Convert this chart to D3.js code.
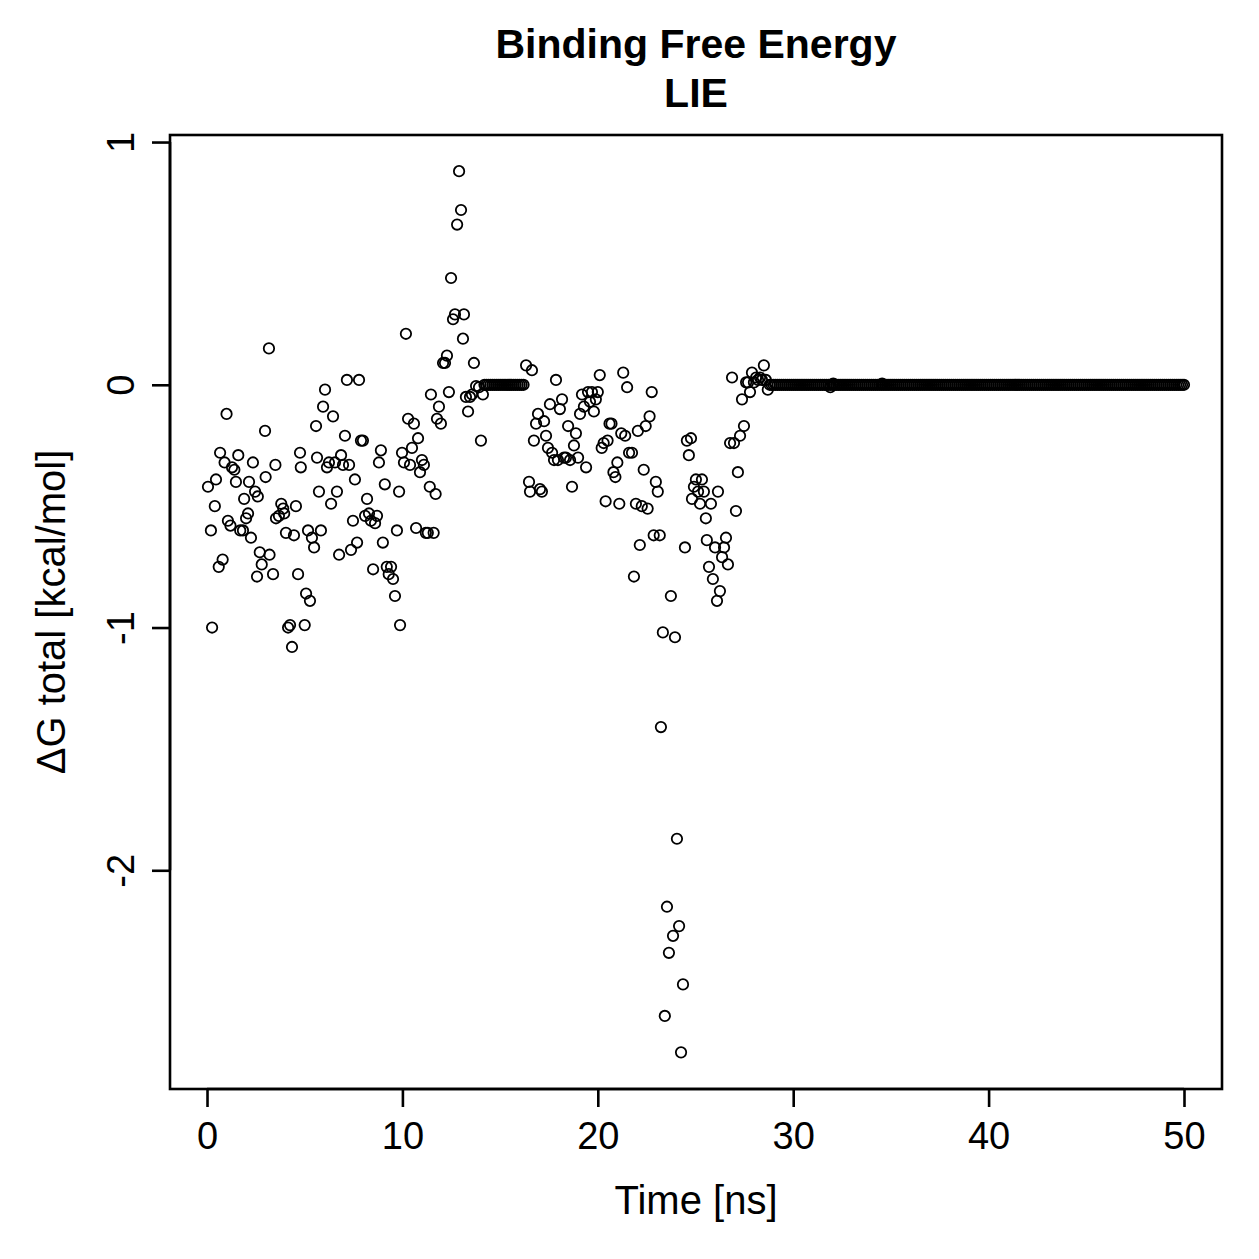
<html>
<head>
<style>
  body { margin: 0; background: white; }
  text { font-family: "Liberation Sans", Arial, Helvetica, sans-serif; fill: black; }
</style>
</head>
<body>
<svg id="chart" width="1259" height="1259"></svg>
<script src="https://d3js.org/d3.v7.min.js"></script>
<script>
// scattered samples, time in ns
const time = [
  0.05,0.2,0.26,0.4,0.46,0.6,0.67,0.8,0.9,1.0,1.07,1.2,1.28,1.4,1.48,1.6,1.7,1.84,1.9,2.0,
  2.1,2.15,2.25,2.35,2.46,2.56,2.6,2.7,2.8,2.97,3.0,3.17,3.2,3.38,3.5,3.53,3.68,3.8,3.9,3.95,
  4.04,4.15,4.25,4.35,4.45,4.55,4.66,4.76,4.8,5.0,5.07,5.17,5.27,5.37,5.48,5.58,5.63,5.73,5.83,5.94,
  6.04,6.14,6.24,6.35,6.45,6.55,6.65,6.76,6.86,6.96,7.06,7.16,7.27,7.37,7.47,7.57,7.68,7.78,7.88,7.98,
  8.09,8.19,8.29,8.39,8.5,8.6,8.7,8.8,8.9,9.0,9.1,9.2,9.3,9.42,9.52,9.62,9.72,9.83,9.88,9.98,
  10.08,10.18,10.29,10.39,10.49,10.59,10.7,10.8,10.9,11.0,11.1,11.2,11.3,11.4,11.46,11.6,11.7,11.77,11.87,11.97,
  12.08,12.18,12.28,12.38,12.49,12.59,12.69,12.8,12.9,13.0,13.1,13.15,13.25,13.36,13.46,13.56,13.66,13.77,13.92,14.02,
  14.12,
  16.33,16.48,16.53,16.63,16.73,16.84,16.94,17.04,17.14,17.25,17.35,17.45,17.55,17.66,17.76,17.86,17.96,18.06,18.17,18.27,
  18.37,18.48,18.58,18.68,18.78,18.88,18.99,19.09,19.19,19.29,19.4,19.5,19.6,19.7,19.8,19.9,20.0,20.1,20.2,20.3,
  20.4,20.5,20.6,20.7,20.8,20.9,21.0,21.1,21.2,21.3,21.4,21.5,21.6,21.75,21.85,21.95,22.05,22.15,22.25,22.35,
  22.45,22.55,22.65,22.76,22.86,22.97,23.07,23.17,23.23,23.33,23.43,23.54,23.64,23.74,23.85,23.95,24.05,24.16,24.26,24.36,
  24.46,24.56,24.66,24.77,24.82,24.92,25.02,25.13,25.23,25.33,25.43,25.53,25.58,25.69,25.79,25.89,26.0,26.1,26.15,26.25,
  26.36,26.46,26.56,26.66,26.77,26.87,26.97,27.07,27.17,27.28,27.38,27.48,27.59,27.69,27.79,27.89,27.99,28.1,28.2,28.3,
  28.4,28.5,28.6,28.7,31.9,32.05,34.55
];
// ΔG total, kcal/mol
const dG = [
  -0.42,-0.60,-1.00,-0.50,-0.39,-0.75,-0.28,-0.72,-0.32,-0.12,-0.56,-0.58,-0.34,-0.35,-0.40,-0.29,-0.60,-0.60,-0.47,-0.55,
  -0.53,-0.40,-0.63,-0.32,-0.44,-0.79,-0.46,-0.69,-0.74,-0.19,-0.38,0.15,-0.70,-0.78,-0.33,-0.55,-0.54,-0.49,-0.51,-0.53,
  -0.61,-1.00,-0.99,-1.08,-0.62,-0.50,-0.78,-0.28,-0.34,-0.99,-0.86,-0.60,-0.89,-0.63,-0.67,-0.17,-0.30,-0.44,-0.60,-0.09,
  -0.02,-0.34,-0.32,-0.49,-0.13,-0.32,-0.44,-0.70,-0.29,-0.33,-0.21,0.02,-0.33,-0.68,-0.56,-0.39,-0.65,0.02,-0.23,-0.23,
  -0.54,-0.47,-0.53,-0.56,-0.76,-0.57,-0.54,-0.32,-0.27,-0.65,-0.41,-0.75,-0.78,-0.75,-0.80,-0.87,-0.60,-0.44,-0.99,-0.28,
  -0.32,0.21,-0.14,-0.33,-0.26,-0.16,-0.59,-0.22,-0.36,-0.31,-0.33,-0.61,-0.61,-0.42,-0.04,-0.61,-0.45,-0.14,-0.09,-0.16,
  0.09,0.09,0.12,-0.03,0.44,0.27,0.29,0.66,0.88,0.72,0.19,0.29,-0.05,-0.11,-0.05,-0.04,0.09,-0.005,-0.01,-0.23,
  -0.04,
  0.08,-0.40,-0.44,0.06,-0.23,-0.16,-0.12,-0.43,-0.44,-0.15,-0.21,-0.26,-0.08,-0.28,-0.31,0.02,-0.31,-0.10,-0.06,-0.30,
  -0.30,-0.17,-0.31,-0.42,-0.25,-0.20,-0.30,-0.12,-0.04,-0.09,-0.34,-0.03,-0.07,-0.03,-0.11,-0.06,-0.03,0.04,-0.26,-0.24,
  -0.48,-0.23,-0.16,-0.16,-0.36,-0.38,-0.32,-0.49,-0.20,0.05,-0.21,-0.01,-0.28,-0.28,-0.79,-0.49,-0.19,-0.66,-0.50,-0.35,
  -0.17,-0.51,-0.13,-0.03,-0.62,-0.40,-0.44,-0.62,-1.41,-1.02,-2.60,-2.15,-2.34,-0.87,-2.27,-1.04,-1.87,-2.23,-2.75,-2.47,
  -0.67,-0.23,-0.29,-0.22,-0.47,-0.42,-0.39,-0.44,-0.49,-0.39,-0.44,-0.55,-0.64,-0.75,-0.49,-0.80,-0.67,-0.89,-0.44,-0.85,
  -0.71,-0.67,-0.63,-0.74,-0.24,0.03,-0.24,-0.52,-0.36,-0.21,-0.06,-0.17,0.01,0.01,-0.03,0.05,0.01,0.03,0.02,0.03,
  0.02,0.08,0.02,-0.02,-0.01,0.005,0.005
];
// stretches where the energy sits at exactly zero, sampled every 0.1 ns
const zeroRuns = [[14.2, 16.2], [28.8, 50.0]];
const zeroValue = 0;

const xTicks = [0, 10, 20, 30, 40, 50];
const yTicks = [1, 0, -1, -2];
const titleLines = ["Binding Free Energy", "LIE"];
const xLabel = "Time [ns]";
const yLabel = "ΔG total [kcal/mol]";

const points = time.map((t, i) => ({ t: t, v: dG[i] }));
zeroRuns.forEach(([a, b]) => {
  d3.range(Math.round(a * 10), Math.round(b * 10) + 1).forEach(k => points.push({ t: k / 10, v: zeroValue }));
});

const box = { left: 170, right: 1222, top: 135, bottom: 1089 };
const x = d3.scaleLinear().domain([-1.894, 51.945]).range([box.left, box.right]);
const y = d3.scaleLinear().domain([1.029, -2.901]).range([box.top, box.bottom]);

const svg = d3.select("#chart");

svg.append("g")
  .selectAll("circle")
  .data(points)
  .join("circle")
  .attr("cx", d => x(d.t))
  .attr("cy", d => y(d.v))
  .attr("r", 5.2)
  .attr("fill", "none")
  .attr("stroke", "black")
  .attr("stroke-width", 1.8);

svg.append("rect")
  .attr("x", box.left).attr("y", box.top)
  .attr("width", box.right - box.left).attr("height", box.bottom - box.top)
  .attr("fill", "none").attr("stroke", "black").attr("stroke-width", 2.6);

// bottom axis, R style
const xAxis = svg.append("g").attr("transform", "translate(0," + box.bottom + ")")
  .call(d3.axisBottom(x).tickValues(xTicks).tickSize(18).tickPadding(10).tickSizeOuter(0));
xAxis.select(".domain").attr("d", "M" + x(0) + ",0H" + x(50)).attr("stroke-width", 2.6);
xAxis.selectAll(".tick line").attr("stroke-width", 2.6);
xAxis.selectAll(".tick text").attr("font-size", 38).attr("font-family", "Liberation Sans, Arial, sans-serif")
  .attr("y", 60).attr("dy", 0);

// left axis with rotated labels, plain hyphen minus like R
const yAxis = svg.append("g").attr("transform", "translate(" + box.left + ",0)")
  .call(d3.axisLeft(y).tickValues(yTicks).tickFormat(d => String(d)).tickSize(18).tickSizeOuter(0));
yAxis.select(".domain").attr("d", "M0," + y(1) + "V" + y(-2)).attr("stroke-width", 2.6);
yAxis.selectAll(".tick line").attr("stroke-width", 2.6);
yAxis.selectAll(".tick text")
  .attr("font-size", 38).attr("font-family", "Liberation Sans, Arial, sans-serif")
  .attr("x", null).attr("dy", null)
  .attr("text-anchor", "middle")
  .attr("transform", "translate(-36,0) rotate(-90)");

svg.append("text")
  .attr("x", (box.left + box.right) / 2).attr("y", 1214)
  .attr("text-anchor", "middle").attr("font-size", 40)
  .text(xLabel);

svg.append("text")
  .attr("transform", "translate(65," + (box.top + box.bottom) / 2 + ") rotate(-90)")
  .attr("text-anchor", "middle").attr("font-size", 40)
  .text(yLabel);

svg.selectAll("text.title")
  .data(titleLines)
  .join("text")
  .attr("class", "title")
  .attr("x", (box.left + box.right) / 2)
  .attr("y", (d, i) => 58 + i * 49)
  .attr("text-anchor", "middle")
  .attr("font-size", 41)
  .attr("font-weight", "bold")
  .text(d => d);
</script>
</body>
</html>
